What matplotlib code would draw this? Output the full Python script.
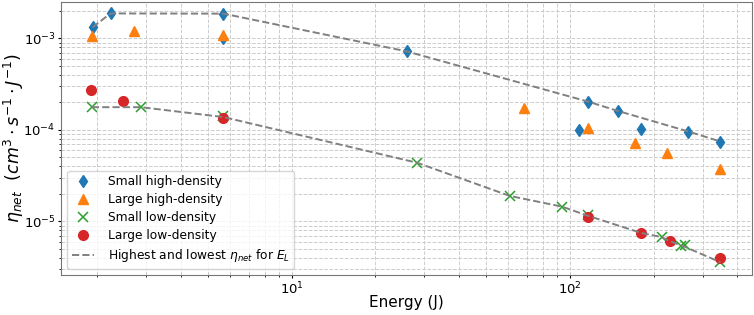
import matplotlib
matplotlib.use("Agg")
import matplotlib.pyplot as plt

# small high-density (blue diamonds)
shd_energy = [1.92, 2.23, 5.68, 5.68, 25.9, 108, 116.7, 148.8, 179.6, 267, 348]
shd_eta = [1.32e-3, 1.87e-3, 1.86e-3, 1.0e-3, 7.2e-4, 1.0e-4, 2.03e-4, 1.61e-4, 1.03e-4, 9.6e-5, 7.46e-5]

# large high-density (orange triangles)
lhd_energy = [1.91, 2.70, 5.68, 68.5, 116.7, 170.9, 224.4, 348]
lhd_eta = [1.06e-3, 1.19e-3, 1.09e-3, 1.72e-4, 1.04e-4, 7.22e-5, 5.62e-5, 3.76e-5]

# small low-density (green crosses)
sld_energy = [1.91, 2.87, 5.68, 28.2, 60.8, 93.8, 116.5, 213.8, 252, 259, 348]
sld_eta = [1.77e-4, 1.77e-4, 1.40e-4, 4.38e-5, 1.90e-5, 1.45e-5, 1.18e-5, 6.75e-6, 5.4e-6, 5.5e-6, 3.58e-6]

# large low-density (red circles)
lld_energy = [1.90, 2.47, 5.68, 116.5, 181, 229, 348]
lld_eta = [2.72e-4, 2.05e-4, 1.36e-4, 1.12e-5, 7.47e-6, 6.07e-6, 4.03e-6]

# highest / lowest eta envelope lines
high_energy = [1.92, 2.23, 5.68, 25.9, 116.7, 148.8, 267, 348]
high_eta = [1.32e-3, 1.87e-3, 1.86e-3, 7.2e-4, 2.03e-4, 1.61e-4, 9.6e-5, 7.46e-5]
low_energy = [1.91, 2.87, 5.68, 28.2, 60.8, 93.8, 116.5, 181, 213.8, 229, 255, 348]
low_eta = [1.77e-4, 1.77e-4, 1.38e-4, 4.38e-5, 1.90e-5, 1.45e-5, 1.15e-5, 7.47e-6, 6.75e-6, 6.07e-6, 5.4e-6, 3.58e-6]

fig = plt.figure(figsize=(7.54, 3.15), dpi=100)
ax = fig.add_axes([0.081, 0.127, 0.916, 0.867])

ax.plot(shd_energy, shd_eta, "d", color="C0", ms=6.5, ls="none", label="Small high-density")
ax.plot(lhd_energy, lhd_eta, "^", color="C1", ms=7, ls="none", label="Large high-density")
ax.plot(sld_energy, sld_eta, "x", color="C2", ms=7, mew=1.1, ls="none", label="Small low-density")
ax.plot(lld_energy, lld_eta, "o", color="C3", ms=7, ls="none", label="Large low-density")

ax.plot(high_energy, high_eta, "--", color="gray", lw=1.4, label=r"Highest and lowest $\eta_{net}$ for $E_L$")
ax.plot(low_energy, low_eta, "--", color="gray", lw=1.4)

ax.set_xscale("log")
ax.set_yscale("log")
ax.set_xlim(1.48, 451)
ax.set_ylim(2.6e-6, 2.5e-3)

ax.grid(True, which="both", linestyle="--", color="#cccccc", linewidth=0.7)

ax.set_xlabel("Energy (J)", fontsize=11)
ax.set_ylabel(r"$\eta_{net}\ \ (cm^3 \cdot s^{-1} \cdot J^{-1})$", fontsize=12.5)
# pull the axis labels in close to the tick labels
ax.xaxis.set_label_coords(0.5, -0.075)
ax.yaxis.set_label_coords(-0.051, 0.5)
ax.tick_params(which="major", labelsize=9.5, length=2.5, pad=1.5)
ax.tick_params(which="minor", length=1.5)
for s in ax.spines.values():
    s.set_color("#777777")

ax.legend(loc="lower left", fontsize=8.8, handlelength=1.8, handletextpad=1.1, labelspacing=0.4)

fig.savefig("out.png", dpi=100)
